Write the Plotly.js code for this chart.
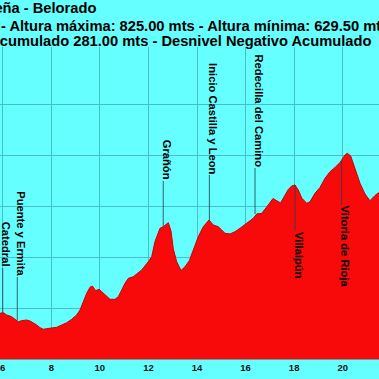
<!DOCTYPE html>
<html>
<head>
<meta charset="utf-8">
<script src="https://cdn.plot.ly/plotly-3.0.1.min.js"></script>
<style>html,body{margin:0;padding:0;background:#66ffff;}#chart{width:379px;height:379px;}</style>
</head>
<body>
<div id="chart"></div>
<script>
// ---- data: elevation profile (km, metres) ----
const km = [5.888, 6.023, 6.163, 6.369, 6.505, 6.641, 6.781, 6.987, 7.123, 7.259, 7.399, 7.535, 7.671, 7.811, 8.017, 8.223, 8.429, 8.634, 8.840, 9.046, 9.182, 9.318, 9.458, 9.594, 9.689, 9.828, 9.965, 10.076, 10.253, 10.418, 10.623, 10.760, 10.900, 11.035, 11.171, 11.377, 11.517, 11.723, 11.995, 12.135, 12.271, 12.407, 12.476, 12.613, 12.683, 12.818, 12.929, 13.024, 13.164, 13.341, 13.506, 13.683, 13.848, 14.054, 14.260, 14.466, 14.495, 14.672, 14.877, 15.017, 15.153, 15.359, 15.565, 15.771, 16.047, 16.319, 16.459, 16.665, 16.871, 17.076, 17.130, 17.439, 17.624, 17.760, 17.900, 18.036, 18.172, 18.312, 18.518, 18.654, 18.859, 19.065, 19.271, 19.477, 19.683, 19.889, 20.095, 20.190, 20.330, 20.507, 20.713, 20.918, 21.124, 21.330, 21.495];
const elev = [647.3, 647.9, 645.4, 643.5, 640.6, 637.9, 639.1, 639.8, 638.7, 636.8, 634.3, 631.3, 629.5, 630.2, 630.6, 631.7, 634.3, 636.8, 640.6, 645.4, 650.9, 660.2, 669.5, 676.2, 677.6, 672.4, 673.9, 671.3, 666.5, 662.8, 662.8, 665.7, 673.2, 680.6, 686.1, 687.9, 690.9, 695.4, 704.6, 710.1, 727.0, 737.9, 741.7, 743.5, 745.3, 747.9, 738.7, 718.7, 704.6, 694.8, 699.0, 705.7, 717.6, 732.4, 743.5, 750.1, 750.9, 745.3, 743.5, 739.8, 736.1, 735.4, 737.9, 741.7, 747.2, 752.8, 757.6, 758.3, 765.3, 773.7, 774.8, 769.8, 777.6, 784.8, 788.7, 789.8, 784.2, 775.3, 769.4, 771.2, 780.6, 787.0, 797.2, 804.5, 809.2, 814.8, 823.1, 825.0, 822.0, 808.7, 791.7, 779.8, 772.3, 778.1, 781.4];

// ---- waypoints ----
const wpNames = ['Catedral', 'Puente y Ermita', 'Grañón', 'Inicio Castilla y Leon', 'Redecilla del Camino', 'Villaipún', 'Vitoria de Rioja'];
const wpKm = [6.00, 6.60, 12.61, 14.51, 16.39, 18.04, 19.95];
const wpElev = [647.6, 639.3, 743.5, 750.9, 757.6, 789.8, 816.4];

// ---- x tick labels ----
const xTickVals = [6, 8, 10, 12, 14, 16, 18, 20];
const xTickText = ['6', '8', '10', '12', '14', '16', '18', '20'];

// ---- title lines ----
const titleLines = [
  'Cirueña - Belorado',
  '- Altura máxima: 825.00 mts - Altura mínima: 629.50 mts',
  'Desnivel Positivo Acumulado 281.00 mts - Desnivel Negativo Acumulado'
];

// ---- layout helpers (positions only) ----
const W = 379, H = 379, mT = 47, mB = 20;
const plotH = H - mT - mB;
const yMin = 596.5, pxPerM = 0.9003;
const yMax = yMin + plotH / pxPerM;
const gridStep = 51 / pxPerM;
const yGrid = [1, 2, 3, 4, 5].map(k => yMin + k * gridStep);
const pxToElev = py => yMin + (H - mB - py) / pxPerM;
const pyPaper = py => (H - mB - py) / plotH;
// label end positions in pixel rows (above: bottom end; below: top end)
const labelEndPx = [268, 277, 181, 175, 168, 230.7, 205];
const labelAbove = [true, true, true, true, true, false, false];

const font = 'Liberation Sans, Arial, Helvetica, sans-serif';

// leader lines
const lx = [], ly = [];
wpKm.forEach((k, i) => { lx.push(k, k, null); ly.push(wpElev[i], pxToElev(labelEndPx[i]), null); });

const traces = [
  { x: km, y: elev, type: 'scatter', mode: 'lines', fill: 'tozeroy',
    fillcolor: 'rgba(255,0,0,0.96)', line: { color: 'rgb(205,0,0)', width: 1 }, hoverinfo: 'skip' },
  { x: lx, y: ly, type: 'scatter', mode: 'lines', line: { color: 'rgba(40,70,80,0.85)', width: 1 }, hoverinfo: 'skip' }
];

const annotations = [];
wpNames.forEach((n, i) => {
  annotations.push({ x: wpKm[i], xref: 'x', y: pxToElev(labelEndPx[i]), yref: 'y',
    text: n, textangle: 90, showarrow: false, xanchor: 'left', xshift: -3,
    yanchor: labelAbove[i] ? 'bottom' : 'top', borderpad: 0,
    font: { family: font, size: 11.2, color: '#000', weight: 'bold' } });
});
annotations.push({ x: 97 / W, xref: 'paper', y: pyPaper(8.3), yref: 'paper', text: titleLines[0],
  showarrow: false, xanchor: 'right', yanchor: 'middle', borderpad: 0,
  font: { family: font, size: 14.7, color: '#000', weight: 'bold' } });
annotations.push({ x: 0.3 / W, xref: 'paper', y: pyPaper(25.6), yref: 'paper', text: titleLines[1],
  showarrow: false, xanchor: 'left', yanchor: 'middle', borderpad: 0,
  font: { family: font, size: 14.7, color: '#000', weight: 'bold' } });
annotations.push({ x: -137 / W, xref: 'paper', y: pyPaper(40.9), yref: 'paper', text: titleLines[2],
  showarrow: false, xanchor: 'left', yanchor: 'middle', borderpad: 0,
  font: { family: font, size: 14.7, color: '#000', weight: 'bold' } });

const layout = {
  width: W, height: H,
  margin: { l: 0, r: 0, t: mT, b: mB, pad: 0 },
  paper_bgcolor: '#66ffff', plot_bgcolor: '#66ffff',
  showlegend: false,
  xaxis: { range: [5.8876, 21.495], tickmode: 'array', tickvals: xTickVals, ticktext: xTickText,
    showgrid: true, gridcolor: 'rgb(70,190,205)', gridwidth: 1, zeroline: false,
    showline: true, linecolor: 'rgb(120,150,150)', linewidth: 1, ticks: '',
    tickfont: { family: font, size: 9.5, color: '#111', weight: 'bold' } },
  yaxis: { range: [yMin, yMax], tickmode: 'array', tickvals: yGrid, showticklabels: false,
    showgrid: true, gridcolor: 'rgb(70,190,205)', gridwidth: 1, zeroline: false,
    showline: true, mirror: true, linecolor: 'rgb(70,190,205)', ticks: '' },
  annotations: annotations
};

Plotly.newPlot('chart', traces, layout, { displayModeBar: false, staticPlot: true });
</script>
</body>
</html>
